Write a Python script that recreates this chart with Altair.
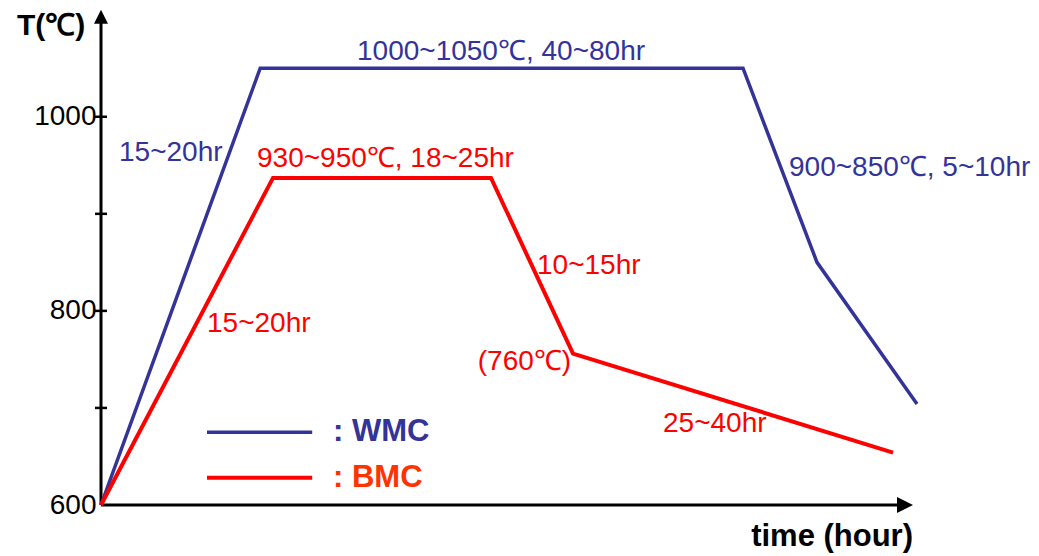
import altair as alt
import pandas as pd

# ---------------- data ----------------
series_names = ["WMC", "BMC"]
wmc_time = [0, 19.9, 80.25, 89.5, 102.0]
wmc_temp = [600, 1050, 1050, 850, 704]
bmc_time = [0, 21.5, 48.75, 59.0, 99.0]
bmc_temp = [600, 937, 937, 756, 654]

y_label_values = [600, 800, 1000]
y_tick_values = [700, 800, 900, 1000]

ann_text = ["15~20hr", "1000~1050℃, 40~80hr", "900~850℃, 5~10hr",
            "930~950℃, 18~25hr", "15~20hr", "10~15hr", "(760℃)", "25~40hr"]
ann_series = ["WMC", "WMC", "WMC", "BMC", "BMC", "BMC", "BMC", "BMC"]
ann_time = [2.25, 32.0, 86.0, 19.5, 13.25, 54.5, 47.1, 70.25]
ann_temp = [963, 1067, 947, 956, 786, 846, 747, 683]

legend_text = [": WMC", ": BMC"]
legend_temp = [675, 628]
legend_line_start = 13.25
legend_line_end = 26.4
legend_text_time = 29.0

y_title = "T(℃)"
x_title = "time (hour)"
y_title_pos = (-10.5, 1094)
x_title_pos = (101.5, 567)

x_axis_end = 99.5
x_arrow_at = 100.5
y_axis_end = 1097
y_arrow_at = 1103

# ---------------- styles ----------------
BLUE = "#333399"
RED = "#FF0000"
LINE_COLORS = {"WMC": BLUE, "BMC": RED}
KEY_COLORS = {"WMC": BLUE, "BMC": "#FF3300"}
LINE_WIDTH = {"WMC": 3.5, "BMC": 4}
FONT = "Liberation Sans"

XS = alt.Scale(domain=[0, 104], nice=False, zero=False)
YS = alt.Scale(domain=[600, 1110], nice=False, zero=False)
Y_AXIS = alt.Axis(values=y_label_values, format="d", domain=False, ticks=False,
                  grid=False, title=None, labelFontSize=28, labelFont=FONT,
                  labelColor="black", labelPadding=5, labelOverlap=False,
                  labelBound=False)


def X(f):
    return alt.X(f, scale=XS, axis=None)


def Y(f):
    return alt.Y(f, scale=YS, axis=Y_AXIS)


# ---------------- frames ----------------
series_data = {"WMC": (wmc_time, wmc_temp), "BMC": (bmc_time, bmc_temp)}
layers = []

# axes lines
axes_df = pd.DataFrame({"t": [0, 0], "t2": [0, x_axis_end],
                        "T": [600, 600], "T2": [y_axis_end, 600]})
layers.append(alt.Chart(axes_df).mark_rule(color="black", strokeWidth=3).encode(
    x=X("t:Q"), x2="t2:Q", y=Y("T:Q"), y2="T2:Q"))

# arrows
up_df = pd.DataFrame({"t": [0], "T": [y_arrow_at]})
layers.append(alt.Chart(up_df).mark_point(
    shape="M0,-1L1,1L-1,1Z", size=196, filled=True, color="black", opacity=1,
    strokeWidth=0).encode(x=X("t:Q"), y=Y("T:Q")))
right_df = pd.DataFrame({"t": [x_arrow_at], "T": [600]})
layers.append(alt.Chart(right_df).mark_point(
    shape="M-1,-1L1,0L-1,1Z", size=256, filled=True, color="black", opacity=1,
    strokeWidth=0).encode(x=X("t:Q"), y=Y("T:Q")))

# y ticks crossing axis
tick_df = pd.DataFrame({"T": y_tick_values})
layers.append(alt.Chart(tick_df).mark_rule(color="black", strokeWidth=2.5).encode(
    x=alt.value(-6), x2=alt.value(6), y=Y("T:Q")))

# series lines
for name in series_names:
    tt, TT = series_data[name]
    df = pd.DataFrame({"t": tt, "T": TT, "o": list(range(len(tt)))})
    layers.append(alt.Chart(df).mark_line(
        color=LINE_COLORS[name], strokeWidth=LINE_WIDTH[name],
        strokeJoin="miter").encode(x=X("t:Q"), y=Y("T:Q"), order="o:Q"))

# annotations
ann_df = pd.DataFrame({"text": ann_text, "t": ann_time, "T": ann_temp,
                       "c": [LINE_COLORS[s] for s in ann_series]})
layers.append(alt.Chart(ann_df).mark_text(
    align="left", baseline="middle", fontSize=28, font=FONT).encode(
    x=X("t:Q"), y=Y("T:Q"), text="text:N", color=alt.Color("c:N", scale=None)))

# legend keys
key_df = pd.DataFrame({"t": [legend_line_start] * 2, "t2": [legend_line_end] * 2,
                       "T": legend_temp, "s": series_names})
for name in series_names:
    layers.append(alt.Chart(key_df[key_df.s == name]).mark_rule(
        color=LINE_COLORS[name], strokeWidth=LINE_WIDTH[name]).encode(
        x=X("t:Q"), x2="t2:Q", y=Y("T:Q")))
keytext_df = pd.DataFrame({"text": legend_text, "t": [legend_text_time] * 2,
                           "T": legend_temp,
                           "c": [KEY_COLORS[s] for s in series_names]})
layers.append(alt.Chart(keytext_df).mark_text(
    align="left", baseline="middle", fontSize=31, fontWeight="bold", font=FONT).encode(
    x=X("t:Q"), y=Y("T:Q"), text="text:N", color=alt.Color("c:N", scale=None)))

# axis titles
title_df = pd.DataFrame({"text": [y_title], "t": [y_title_pos[0]], "T": [y_title_pos[1]]})
layers.append(alt.Chart(title_df).mark_text(
    align="left", baseline="middle", fontSize=30, fontWeight="bold", font=FONT,
    color="black").encode(x=X("t:Q"), y=Y("T:Q"), text="text:N"))
xt_df = pd.DataFrame({"text": [x_title], "t": [x_title_pos[0]], "T": [x_title_pos[1]]})
layers.append(alt.Chart(xt_df).mark_text(
    align="right", baseline="middle", fontSize=31, fontWeight="bold", font=FONT,
    color="black").encode(x=X("t:Q"), y=Y("T:Q"), text="text:N"))

chart = alt.layer(*layers).properties(
    width=832, height=495,
    padding={"left": 93, "top": 2, "right": 98, "bottom": 48},
    autosize=alt.AutoSizeParams(type="none"),
    background="white",
).configure_view(strokeWidth=0)

chart.save("out.html", embed_options={"renderer": "svg", "actions": False})
